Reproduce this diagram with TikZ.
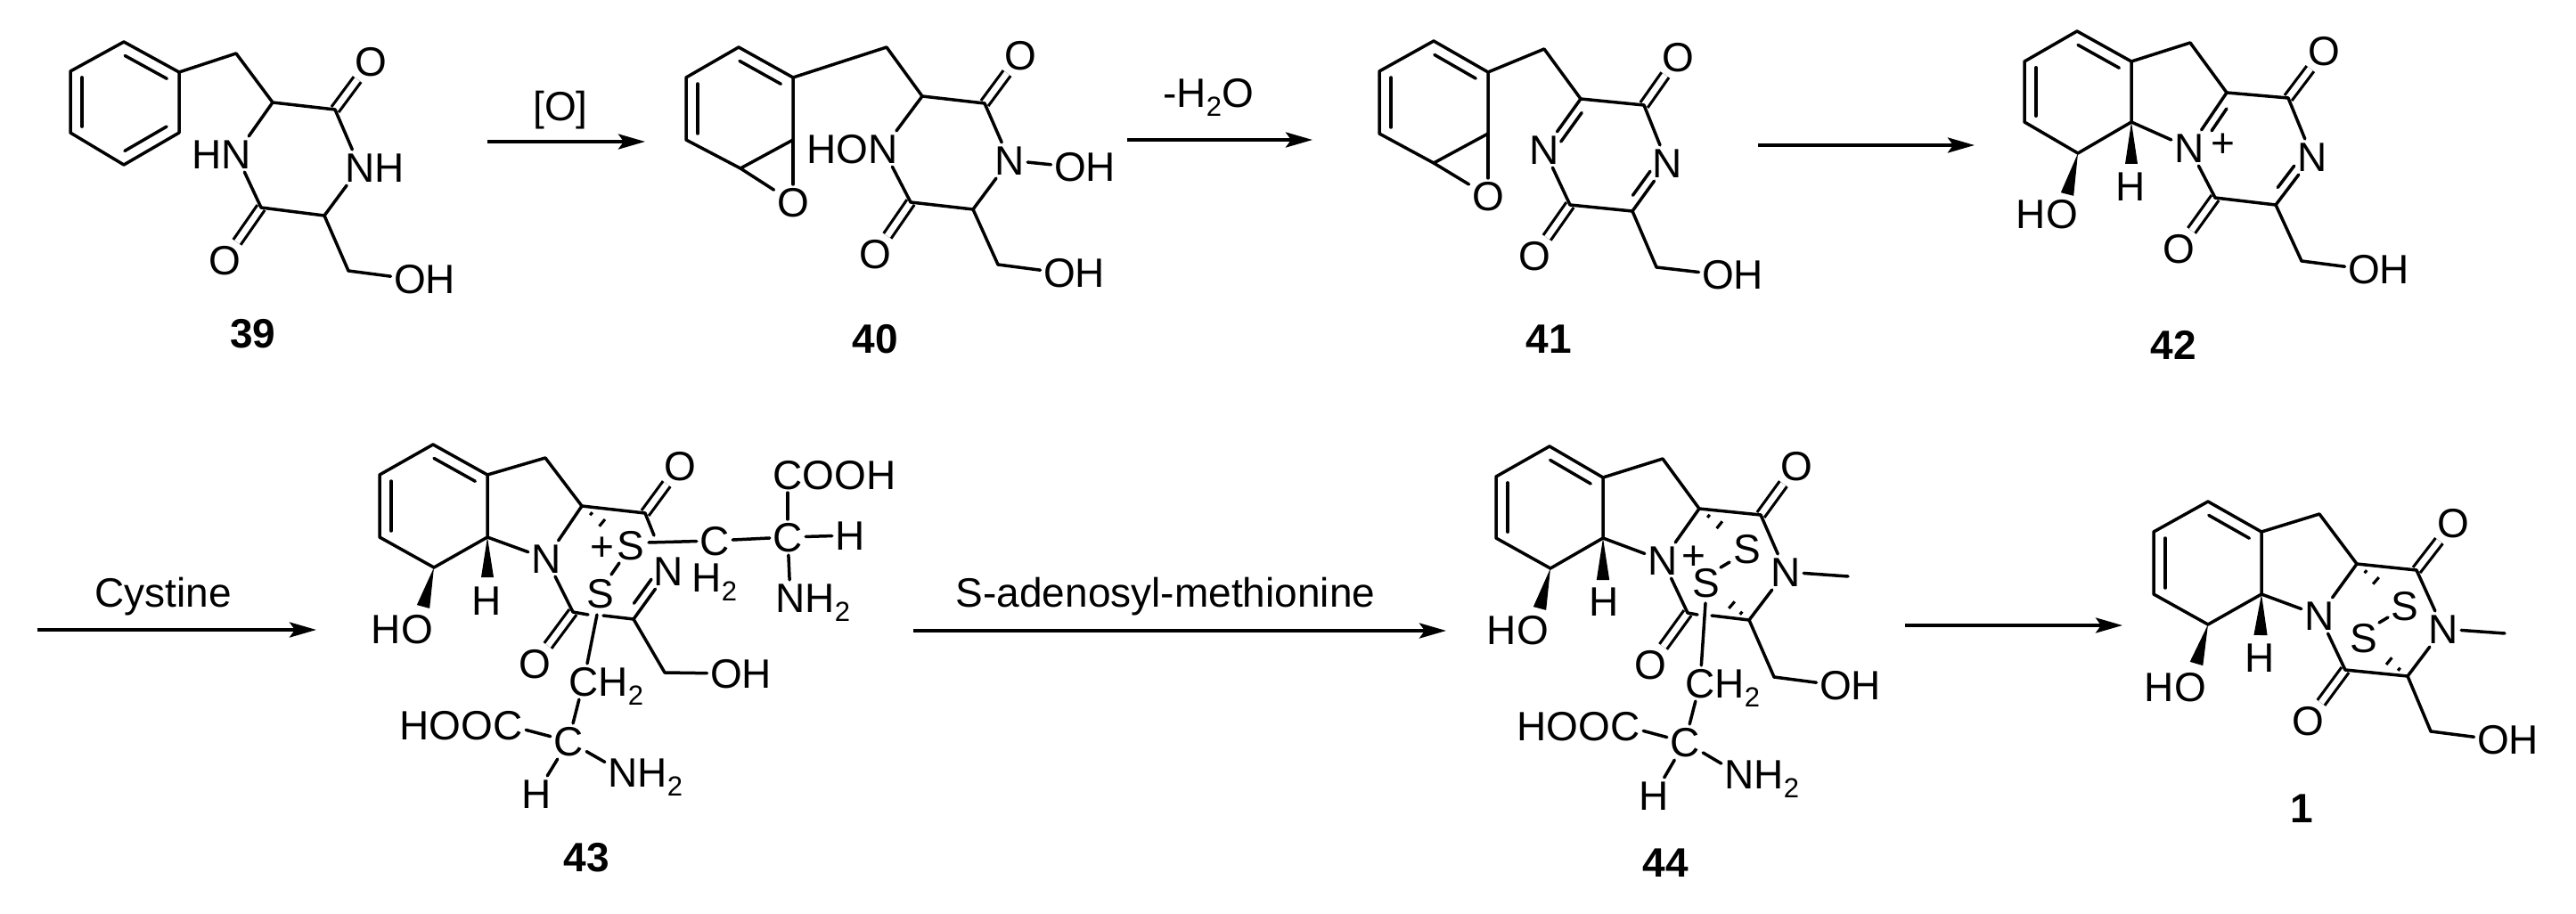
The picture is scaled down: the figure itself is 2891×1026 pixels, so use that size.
\documentclass[tikz,border=0pt]{standalone}
\usepackage{fontspec}
\setmainfont{Liberation Sans}
\usetikzlibrary{calc,arrows.meta}
\newcommand\af{\fontsize{23}{23}\selectfont}
\newcommand\chsub[1]{\raisebox{-5pt}{\fontsize{15.5}{15.5}\selectfont #1}}
% inner line of a ring/imine double bond: from, to, fraction1, fraction2, offset
\newcommand\dbin[5]{\draw[bond] ($(#1)!#3!(#2)!#5!90:(#2)$) -- ($(#1)!#4!(#2)!#5!90:(#2)$);}
% hashed bond: start, last stroke centre
\newcommand\hashb[2]{%
  \draw[hash] ($(#1)!.30!(#2)!1.0pt!90:(#2)$) -- ($(#1)!.30!(#2)!1.0pt!-90:(#2)$);
  \draw[hash] ($(#1)!.65!(#2)!2.5pt!90:(#2)$) -- ($(#1)!.65!(#2)!2.5pt!-90:(#2)$);
  \draw[hash] ($(#1)!1!(#2)!4.0pt!90:(#2)$) -- ($(#1)!1!(#2)!4.0pt!-90:(#2)$);}
% solid wedge: tip, middle of base, half width
\newcommand\wedgeb[3]{\fill[black] (#1) -- ($(#2)!#3!90:(#1)$) -- ($(#2)!#3!-90:(#1)$) -- cycle;}
\tikzset{
  bond/.style={line width=1.75pt,line join=round,line cap=round,black},
  hash/.style={line width=1.6pt,black},
  dbond/.style={line width=1.6pt,double,double distance=3.4pt,black},
  rxn/.style={line width=2pt,black,-{Stealth[length=15pt,width=8.5pt,inset=3pt]}},
  atom/.style={font=\af,inner sep=1.6pt,text height=16.5pt,text depth=0pt,black},
  cmpd/.style={font=\af\bfseries,inner sep=0pt,text height=16.5pt,text depth=0pt,black},
}
\begin{document}
\begin{tikzpicture}[x=0.5pt,y=-0.5pt]
\useasboundingbox (0,0) rectangle (2891,1026);

%% ---------- 39
\coordinate (a1) at (139,47); \coordinate (a2) at (201,81); \coordinate (a3) at (201,149);
\coordinate (a4) at (139,185); \coordinate (a5) at (79,149); \coordinate (a6) at (79,80);
\coordinate (a7) at (265,60); \coordinate (a8) at (306,115); \coordinate (a9) at (376,123);
\coordinate (a10) at (293,233); \coordinate (a11) at (364,242); \coordinate (a12) at (391,304);
\node[atom] (aO1) at (416,69) {O};
\node[atom] (aN1) at (265,173) {\llap{H}N};
\node[atom] (aN2) at (404,188) {N\rlap{H}};
\node[atom] (aO2) at (252,292) {O};
\node[atom] (aO3) at (460,313) {O\rlap{H}};
\node[cmpd] (aL) at (284,374) {39};
\draw[dbond] (a9) -- (aO1); \draw[dbond] (a10) -- (aO2);
\draw[bond] (a1)--(a2)--(a3)--(a4)--(a5)--(a6)--cycle;
\dbin{a1}{a2}{.12}{.88}{-6.5pt} \dbin{a3}{a4}{.12}{.88}{-6.5pt} \dbin{a5}{a6}{.1}{.9}{-6.5pt}
\draw[bond] (a2)--(a7)--(a8)--(a9)--(aN2);
\draw[bond] (aN2)--(a11)--(a10)--(aN1);
\draw[bond] (aN1)--(a8);
\draw[bond] (a11)--(a12)--(aO3);

%% arrow 1
\coordinate (r1s) at (547,159); \coordinate (r1e) at (724,159);
\draw[rxn] (r1s) -- (r1e);
\node[atom] (r1t) at (629,119) {[O]};

%% ---------- 40
\coordinate (b1) at (829,53); \coordinate (b2) at (890,87); \coordinate (b3) at (890,157);
\coordinate (b4) at (831,189); \coordinate (b5) at (770,157); \coordinate (b6) at (770,87);
\coordinate (b7) at (995,53); \coordinate (b8) at (1035,108); \coordinate (b9) at (1105,116);
\coordinate (b10) at (1022,227); \coordinate (b11) at (1092,235); \coordinate (b12) at (1120,297);
\node[atom] (bOe) at (890,227) {O};
\node[atom] (bO1) at (1145,62) {O};
\node[atom] (bN1) at (991,167) {\llap{HO}N};
\node[atom] (bN2) at (1133,180) {N};
\node[atom] (bO4) at (1201,187) {O\rlap{H}};
\node[atom] (bO2) at (982,285) {O};
\node[atom] (bO3) at (1189,306) {O\rlap{H}};
\node[cmpd] (bL) at (982,380) {40};
\draw[dbond] (b9) -- (bO1); \draw[dbond] (b10) -- (bO2);
\draw[bond] (b1)--(b2)--(b3)--(b4)--(b5)--(b6)--cycle;
\dbin{b1}{b2}{.12}{.88}{-6.5pt} \dbin{b5}{b6}{.1}{.9}{-6.5pt}
\draw[bond] (b3)--(bOe); \draw[bond] (b4)--(bOe);
\draw[bond] (b2)--(b7)--(b8)--(b9)--(bN2);
\draw[bond] (bN2)--(b11)--(b10)--(bN1); \draw[bond] (bN1)--(b8);
\draw[bond] (bN2)--(bO4);
\draw[bond] (b11)--(b12)--(bO3);

%% arrow 2
\coordinate (r2s) at (1265,157); \coordinate (r2e) at (1473,157);
\draw[rxn] (r2s) -- (r2e);
\node[atom] (r2t) at (1356,104) {-H\chsub{2}O};

%% ---------- 41
\coordinate (c1) at (1609,46); \coordinate (c2) at (1670,81); \coordinate (c3) at (1670,150);
\coordinate (c4) at (1609,183); \coordinate (c5) at (1548,150); \coordinate (c6) at (1548,80);
\coordinate (c7) at (1733,55); \coordinate (c8) at (1774,111); \coordinate (c9) at (1845,118);
\coordinate (c10) at (1762,230); \coordinate (c11) at (1832,237); \coordinate (c12) at (1859,300);
\node[atom] (cOe) at (1670,220) {O};
\node[atom] (cO1) at (1883,64) {O};
\node[atom] (cN1) at (1733,168) {N};
\node[atom] (cN2) at (1871,183) {N};
\node[atom] (cO2) at (1722,287) {O};
\node[atom] (cO3) at (1928,308) {O\rlap{H}};
\node[cmpd] (cL) at (1738,380) {41};
\draw[dbond] (c9) -- (cO1); \draw[dbond] (c10) -- (cO2);
\draw[bond] (c1)--(c2)--(c3)--(c4)--(c5)--(c6)--cycle;
\dbin{c1}{c2}{.12}{.88}{-6.5pt} \dbin{c5}{c6}{.1}{.9}{-6.5pt}
\draw[bond] (c3)--(cOe); \draw[bond] (c4)--(cOe);
\draw[bond] (c2)--(c7)--(c8)--(c9)--(cN2);
\draw[bond] (cN2)--(c11)--(c10)--(cN1); \draw[bond] (cN1)--(c8);
\dbin{c8}{cN1}{.17}{.74}{5pt} \dbin{cN2}{c11}{.28}{.78}{-5pt}
\draw[bond] (c11)--(c12)--(cO3);

%% arrow 3
\coordinate (r3s) at (1973,163); \coordinate (r3e) at (2216,163);
\draw[rxn] (r3s) -- (r3e);

%% ---------- 42
\coordinate (d1) at (2331,35); \coordinate (d2) at (2392,69); \coordinate (d3) at (2392,137);
\coordinate (d4) at (2332,172); \coordinate (d5) at (2272,137); \coordinate (d6) at (2272,69);
\coordinate (d7) at (2458,48); \coordinate (d8) at (2499,104); \coordinate (d9) at (2568,110);
\coordinate (d10) at (2486,222); \coordinate (d11) at (2554,230); \coordinate (d12) at (2583,293);
\coordinate (dw1) at (2392,184); \coordinate (dw2) at (2320,218);
\node[atom] (dO1) at (2608,57) {O};
\node[atom] (dN1) at (2457,166) {N};
\node[atom,inner sep=0pt] (dP) at (2495,160) {+};
\node[atom] (dN2) at (2595,176) {N};
\node[atom] (dO2) at (2445,279) {O};
\node[atom] (dO3) at (2653,302) {O\rlap{H}};
\node[atom] (dH) at (2391,209) {H};
\node[atom] (dO4) at (2314,240) {\llap{H}O};
\node[cmpd] (dL) at (2439,387) {42};
\draw[dbond] (d9) -- (dO1); \draw[dbond] (d10) -- (dO2);
\draw[bond] (d1)--(d2)--(d3)--(d4)--(d5)--(d6)--cycle;
\dbin{d1}{d2}{.12}{.88}{-6.5pt} \dbin{d5}{d6}{.1}{.9}{-6.5pt}
\draw[bond] (d2)--(d7)--(d8)--(d9)--(dN2);
\draw[bond] (dN2)--(d11)--(d10)--(dN1); \draw[bond] (dN1)--(d8); \draw[bond] (dN1)--(d3);
\dbin{d8}{dN1}{.2}{.6}{5pt} \dbin{dN2}{d11}{.3}{.75}{-5pt}
\draw[bond] (d11)--(d12)--(dO3);
\wedgeb{d3}{dw1}{3.5pt} \wedgeb{d4}{dw2}{3.7pt}

%% arrow 4 (Cystine)
\coordinate (r4s) at (42,707); \coordinate (r4e) at (355,707);
\draw[rxn] (r4s) -- (r4e);
\node[atom] (r4t) at (183,665) {Cystine};

%% ---------- 43
\coordinate (e1) at (486,499); \coordinate (e2) at (547,533); \coordinate (e3) at (547,603);
\coordinate (e4) at (487,637); \coordinate (e5) at (426,603); \coordinate (e6) at (426,533);
\coordinate (e7) at (612,514); \coordinate (e8) at (653,568); \coordinate (e9) at (724,576);
\coordinate (e10) at (643,687); \coordinate (e11) at (711,695); \coordinate (e12) at (746,755);
\coordinate (ew1) at (547,648); \coordinate (ew2) at (475,681);
\coordinate (eh1) at (688,597);
\coordinate (ea) at (734,601); \coordinate (eb) at (660,690); \coordinate (ec) at (677,691);
\coordinate (ed) at (728,609); \coordinate (ee) at (670,690); \coordinate (ef) at (695,632); \coordinate (eg) at (686,645);
\node[atom] (eO1) at (763,523) {O};
\node[atom] (eN1) at (613,627) {N};
\node[atom] (eS1) at (708,612) {S};
\node[atom,inner sep=0pt] (eP) at (676,613) {+};
\node[atom] (eS2) at (674,666) {S};
\node[atom] (eN2) at (750,641) {N};
\node[atom] (eO2) at (600,745) {O};
\node[atom] (eO3) at (815,756) {O\rlap{H}};
\node[atom] (eH) at (546,674) {H};
\node[atom] (eO4) at (468,706) {\llap{H}O};
\node[atom] (eC1) at (802,607) {C};
\node[atom] (eH2) at (802,648) {H\chsub{2}};
\node[atom] (eCa) at (884,603) {C};
\node[atom] (eHa) at (954,601) {H};
\node[atom] (eCo) at (884,533) {C\rlap{OOH}};
\node[atom] (eNa) at (887,671) {N\rlap{H\chsub{2}}};
\node[atom] (eC2) at (655,765) {C\rlap{H\chsub{2}}};
\node[atom] (eCb) at (638,832) {C};
\node[atom] (eCc) at (570,814) {\llap{HOO}C};
\node[atom] (eHb) at (602,891) {H};
\node[atom] (eNb) at (699,867) {N\rlap{H\chsub{2}}};
\node[cmpd] (eL) at (658,962) {43};
\draw[dbond] (e9) -- (eO1); \draw[dbond] (e10) -- (eO2);
\draw[bond] (e1)--(e2)--(e3)--(e4)--(e5)--(e6)--cycle;
\dbin{e1}{e2}{.12}{.88}{-6.5pt} \dbin{e5}{e6}{.1}{.9}{-6.5pt}
\draw[bond] (e2)--(e7)--(e8)--(e9)--(ea);
\draw[bond] (e8)--(eN1); \draw[bond] (eN1)--(e3); \draw[bond] (eN1)--(e10)--(eb);
\draw[bond] (eN2)--(e11)--(ec); \dbin{eN2}{e11}{.28}{.78}{-5pt}
\draw[bond] (e11)--(e12)--(eO3);
\hashb{e8}{eh1}
\wedgeb{e3}{ew1}{3.5pt} \wedgeb{e4}{ew2}{3.7pt}
\draw[bond] (ef)--(eg);
\draw[bond] (ed)--(eC1); \draw[bond] (eC1)--(eCa); \draw[bond] (eCa)--(eHa);
\draw[bond] (eCa)--(eCo); \draw[bond] (eCa)--(eNa);
\draw[bond] (ee)--(eC2); \draw[bond] (eC2)--(eCb); \draw[bond] (eCb)--(eCc);
\draw[bond] (eCb)--(eHb); \draw[bond] (eCb)--(eNb);

%% arrow 5 (SAM)
\coordinate (r5s) at (1025,708); \coordinate (r5e) at (1623,708);
\draw[rxn] (r5s) -- (r5e);
\node[atom] (r5t) at (1308,665) {S-adenosyl-methionine};

%% ---------- 44
\coordinate (f1) at (1739,501); \coordinate (f2) at (1799,536); \coordinate (f3) at (1799,604);
\coordinate (f4) at (1740,638); \coordinate (f5) at (1679,604); \coordinate (f6) at (1679,535);
\coordinate (f7) at (1866,515); \coordinate (f8) at (1907,571); \coordinate (f9) at (1976,578);
\coordinate (f10) at (1894,688); \coordinate (f11) at (1963,696); \coordinate (f12) at (1991,760);
\coordinate (fw1) at (1799,651); \coordinate (fw2) at (1728,683);
\coordinate (fh1) at (1942,599); \coordinate (fh2) at (1933,670);
\coordinate (fm) at (2074,647);
\coordinate (fa) at (1905,690); \coordinate (fb) at (1921,691);
\coordinate (fc) at (1914,677); \coordinate (fd) at (1931,637); \coordinate (fe) at (1941,631);
\node[atom] (fO1) at (2016,523) {O};
\node[atom] (fN1) at (1866,629) {N};
\node[atom,inner sep=0pt] (fP) at (1901,623) {+};
\node[atom] (fS1) at (1961,616) {S};
\node[atom] (fS2) at (1915,654) {S};
\node[atom] (fN2) at (2004,642) {N};
\node[atom] (fO2) at (1852,746) {O};
\node[atom] (fO3) at (2060,769) {O\rlap{H}};
\node[atom] (fH) at (1800,675) {H};
\node[atom] (fO4) at (1720,707) {\llap{H}O};
\node[atom] (fC2) at (1908,767) {C\rlap{H\chsub{2}}};
\node[atom] (fCb) at (1891,833) {C};
\node[atom] (fCc) at (1824,815) {\llap{HOO}C};
\node[atom] (fHb) at (1856,893) {H};
\node[atom] (fNb) at (1952,869) {N\rlap{H\chsub{2}}};
\node[cmpd] (fL) at (1869,968) {44};
\draw[dbond] (f9) -- (fO1); \draw[dbond] (f10) -- (fO2);
\draw[bond] (f1)--(f2)--(f3)--(f4)--(f5)--(f6)--cycle;
\dbin{f1}{f2}{.12}{.88}{-6.5pt} \dbin{f5}{f6}{.1}{.9}{-6.5pt}
\draw[bond] (f2)--(f7)--(f8)--(f9)--(fN2);
\draw[bond] (f8)--(fN1); \draw[bond] (fN1)--(f3); \draw[bond] (fN1)--(f10)--(fa);
\draw[bond] (fb)--(f11)--(fN2); \draw[bond] (fN2)--(fm);
\draw[bond] (f11)--(f12)--(fO3);
\hashb{f8}{fh1} \hashb{f11}{fh2}
\draw[bond] (fd)--(fe);
\wedgeb{f3}{fw1}{3.6pt} \wedgeb{f4}{fw2}{3.7pt}
\draw[bond] (fc)--(fC2); \draw[bond] (fC2)--(fCb); \draw[bond] (fCb)--(fCc);
\draw[bond] (fCb)--(fHb); \draw[bond] (fCb)--(fNb);

%% arrow 6
\coordinate (r6s) at (2138,702); \coordinate (r6e) at (2382,702);
\draw[rxn] (r6s) -- (r6e);

%% ---------- 1
\coordinate (g1) at (2478,563); \coordinate (g2) at (2538,597); \coordinate (g3) at (2538,667);
\coordinate (g4) at (2478,701); \coordinate (g5) at (2417,667); \coordinate (g6) at (2417,597);
\coordinate (g7) at (2603,577); \coordinate (g8) at (2645,633); \coordinate (g9) at (2712,640);
\coordinate (g10) at (2632,752); \coordinate (g11) at (2702,759); \coordinate (g12) at (2728,821);
\coordinate (gw1) at (2537,713); \coordinate (gw2) at (2465,745);
\coordinate (gh1) at (2678,662); \coordinate (gh2) at (2670,733);
\coordinate (gm) at (2811,711);
\coordinate (gd) at (2670,699); \coordinate (ge) at (2680,693);
\node[atom] (gO1) at (2753,587) {O};
\node[atom] (gN1) at (2603,691) {N};
\node[atom] (gS1) at (2699,680) {S};
\node[atom] (gS2) at (2653,716) {S};
\node[atom] (gN2) at (2742,706) {N};
\node[atom] (gO2) at (2590,809) {O};
\node[atom] (gO3) at (2798,830) {O\rlap{H}};
\node[atom] (gH) at (2536,738) {H};
\node[atom] (gO4) at (2458,771) {\llap{H}O};
\node[cmpd] (gL) at (2583,907) {1};
\draw[dbond] (g9) -- (gO1); \draw[dbond] (g10) -- (gO2);
\draw[bond] (g1)--(g2)--(g3)--(g4)--(g5)--(g6)--cycle;
\dbin{g1}{g2}{.12}{.88}{-6.5pt} \dbin{g5}{g6}{.1}{.9}{-6.5pt}
\draw[bond] (g2)--(g7)--(g8)--(g9)--(gN2);
\draw[bond] (g8)--(gN1); \draw[bond] (gN1)--(g3); \draw[bond] (gN1)--(g10)--(g11)--(gN2);
\draw[bond] (gN2)--(gm);
\draw[bond] (g11)--(g12)--(gO3);
\hashb{g8}{gh1} \hashb{g11}{gh2}
\draw[bond] (gd)--(ge);
\wedgeb{g3}{gw1}{3.8pt} \wedgeb{g4}{gw2}{3.8pt}
\end{tikzpicture}
\end{document}
